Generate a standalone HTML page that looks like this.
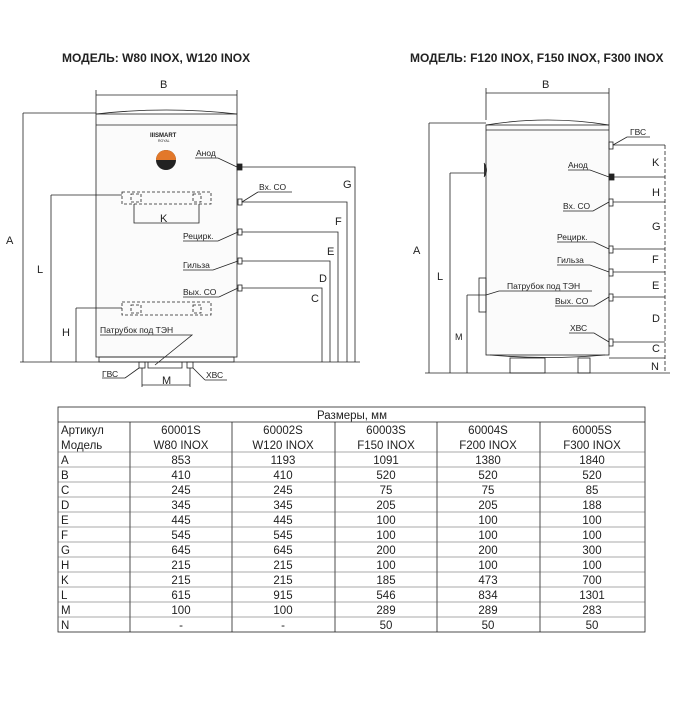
<!DOCTYPE html>
<html><head><meta charset="utf-8"><style>
body{margin:0;background:#fff;}
svg text{font-family:"Liberation Sans",sans-serif;fill:#222;}
</style></head><body>
<svg width="700" height="700" viewBox="0 0 700 700" xmlns="http://www.w3.org/2000/svg">
<g stroke="#222" fill="none" stroke-width="0.8">
<!-- LEFT TANK -->
<rect x="96" y="114" width="141" height="243" fill="#fbfbfb"/>
<path d="M96 125 H237 M96 114 Q166 106 237 114"/>
<path d="M99 357 H234 V362 H99 Z"/>
<line x1="96" y1="95" x2="237" y2="95"/>
<line x1="96" y1="90" x2="96" y2="114"/><line x1="237" y1="90" x2="237" y2="114"/>
<!-- A L H -->
<path d="M23 113 H96 M23 113 V362 M20 362 H360"/>
<path d="M51 195 V362 M51 195 H122"/>
<path d="M76 308 V362 M76 308 H122"/>
<g stroke-dasharray="3,2">
<rect x="122" y="192" width="89" height="12"/><rect x="131" y="194" width="10" height="8"/><rect x="193" y="194" width="8" height="8"/>
<rect x="122" y="302" width="89" height="13"/><rect x="131" y="305" width="10" height="8"/><rect x="193" y="305" width="8" height="8"/>
</g>
<path d="M134 204 V223 H199 V204"/>
<!-- ports -->
<rect x="237" y="164" width="5" height="6" fill="#222"/>
<rect x="238" y="199" width="4" height="6"/><rect x="238" y="229" width="4" height="6"/>
<rect x="238" y="258" width="4" height="6"/><rect x="238" y="285" width="4" height="6"/>
<path d="M242 167 H355 V362 M242 202 H347 V362 M242 232 H338 V362 M242 261 H330 V362 M242 288 H322 V362"/>
<!-- leaders -->
<path d="M195 158 H218 L237 167 M258 192 H292 M258 192 L242 202 M183 241 H218 L238 232 M183 270 H213 L238 261 M183 297 H219 L238 288"/>
<path d="M100 335 H192 L155 365"/>
<!-- bottom -->
<rect x="139" y="362" width="6" height="6"/><rect x="187" y="362" width="6" height="6"/>
<path d="M148 362 V368 H182 V362"/>
<path d="M142 368 V387 M190 368 V387 M142 385 H190"/>
<path d="M125 378 L139 368 M205 380 L193 368 M102 378 H125 M205 380 H227"/>
<!-- RIGHT TANK -->
<rect x="486" y="125" width="123" height="230" fill="#fbfbfb"/>
<path d="M486 130 H609 M486 125 Q548 115 609 125"/>
<path d="M490 355 Q548 360 605 355"/>
<rect x="510" y="358" width="35" height="15"/><rect x="578" y="358" width="12" height="15"/>
<path d="M486 93 H609 M486 88 V120 M609 88 V125"/>
<path d="M429 123 H486 M429 123 V373 M425 373 H670"/>
<path d="M450 173 V373 M450 173 H484"/>
<path d="M467 295 V373 M467 295 H486"/>
<path d="M484 163 Q489 170 484 177" fill="#333"/>
<rect x="479" y="278" width="7" height="34"/>
<rect x="609" y="142" width="4" height="7"/><rect x="609" y="174" width="5" height="6" fill="#222"/>
<rect x="609" y="199" width="4" height="7"/><rect x="609" y="246" width="4" height="7"/>
<rect x="609" y="269" width="4" height="7"/><rect x="609" y="294" width="4" height="7"/>
<rect x="609" y="339" width="4" height="7"/>
<path d="M613 145 H665 M614 177 H665 M613 202 H665 M613 249 H665 M613 272 H665 M613 297 H665 M613 342 H665 M609 358 H665"/>
<path d="M665 145 V373" stroke-dasharray="4,2"/>
<path d="M613 145 L627 137 H650 M568 170 H590 L609 177 M563 211 H593 L609 202 M557 242 H594 L609 249 M557 265 H590 L609 272 M555 306 H594 L609 297 M569 333 H594 L609 342 M486 295 L499 291 H592"/>
</g>
<circle cx="166" cy="160" r="10" fill="#222"/>
<path d="M156 160 A10 10 0 0 1 176 160 Z" fill="#e2782a"/>
<g font-weight="bold" font-size="12">
<text x="62" y="62">МОДЕЛЬ: W80 INOX, W120 INOX</text>
<text x="410" y="62">МОДЕЛЬ: F120 INOX, F150 INOX, F300 INOX</text>
</g>
<text x="150" y="137" font-size="6" font-weight="bold">IIISMART</text>
<text x="158" y="142" font-size="3.5">ROYAL</text>
<g font-size="11">
<text x="160" y="88">B</text><text x="542" y="88">B</text>
<text x="6" y="244">A</text><text x="37" y="273">L</text><text x="62" y="336">H</text>
<text x="160" y="222">K</text><text x="162" y="384">M</text>
<text x="343" y="188">G</text><text x="335" y="225">F</text><text x="327" y="255">E</text>
<text x="319" y="282">D</text><text x="311" y="302">C</text>
<text x="413" y="254">A</text><text x="437" y="280">L</text>
<text x="652" y="166">K</text><text x="652" y="196">H</text><text x="652" y="230">G</text>
<text x="652" y="263">F</text><text x="652" y="289">E</text><text x="652" y="322">D</text>
<text x="652" y="352">C</text><text x="651" y="370">N</text>
</g>
<text x="455" y="340" font-size="9">M</text>
<g font-size="8.5">
<text x="196" y="156">Анод</text><text x="259" y="190">Вх. СО</text>
<text x="183" y="239">Рецирк.</text><text x="183" y="268">Гильза</text>
<text x="183" y="295">Вых. СО</text><text x="100" y="333">Патрубок под ТЭН</text>
<text x="102" y="377">ГВС</text><text x="206" y="378">ХВС</text>
<text x="630" y="135">ГВС</text><text x="568" y="168">Анод</text>
<text x="563" y="209">Вх. СО</text><text x="557" y="240">Рецирк.</text>
<text x="557" y="263">Гильза</text><text x="555" y="304">Вых. СО</text>
<text x="570" y="331">ХВС</text><text x="507" y="289">Патрубок под ТЭН</text>
</g>
<!-- TABLE -->
<g stroke="#222" stroke-width="0.8" fill="none">
<rect x="58" y="407" width="587" height="225"/>
<line x1="58" y1="422" x2="645" y2="422"/>
<path d="M130 422 V632 M232 422 V632 M335 422 V632 M437 422 V632 M540 422 V632"/>
<path d="M58 452 H645 M58 467 H645 M58 482 H645 M58 497 H645 M58 512 H645 M58 527 H645 M58 542 H645 M58 557 H645 M58 572 H645 M58 587 H645 M58 602 H645 M58 617 H645" stroke="#555" stroke-width="0.5"/>
</g>
<g font-size="11.5">
<text x="352" y="419" text-anchor="middle">Размеры, мм</text>
</g>
<g font-size="11.5" id="t"></g>
<g font-size="11.5">
<text x="61" y="434">Артикул</text><text x="61" y="449">Модель</text>
<text x="61" y="464">A</text><text x="61" y="479">B</text><text x="61" y="494">C</text><text x="61" y="509">D</text>
<text x="61" y="524">E</text><text x="61" y="539">F</text><text x="61" y="554">G</text><text x="61" y="569">H</text>
<text x="61" y="584">K</text><text x="61" y="599">L</text><text x="61" y="614">M</text><text x="61" y="629">N</text>
</g>
<g font-size="11.5" text-anchor="middle">
<g transform="translate(181,0)"><text y="434">60001S</text><text y="449">W80 INOX</text><text y="464">853</text><text y="479">410</text><text y="494">245</text><text y="509">345</text><text y="524">445</text><text y="539">545</text><text y="554">645</text><text y="569">215</text><text y="584">215</text><text y="599">615</text><text y="614">100</text><text y="629">-</text></g>
<g transform="translate(283,0)"><text y="434">60002S</text><text y="449">W120 INOX</text><text y="464">1193</text><text y="479">410</text><text y="494">245</text><text y="509">345</text><text y="524">445</text><text y="539">545</text><text y="554">645</text><text y="569">215</text><text y="584">215</text><text y="599">915</text><text y="614">100</text><text y="629">-</text></g>
<g transform="translate(386,0)"><text y="434">60003S</text><text y="449">F150 INOX</text><text y="464">1091</text><text y="479">520</text><text y="494">75</text><text y="509">205</text><text y="524">100</text><text y="539">100</text><text y="554">200</text><text y="569">100</text><text y="584">185</text><text y="599">546</text><text y="614">289</text><text y="629">50</text></g>
<g transform="translate(488,0)"><text y="434">60004S</text><text y="449">F200 INOX</text><text y="464">1380</text><text y="479">520</text><text y="494">75</text><text y="509">205</text><text y="524">100</text><text y="539">100</text><text y="554">200</text><text y="569">100</text><text y="584">473</text><text y="599">834</text><text y="614">289</text><text y="629">50</text></g>
<g transform="translate(592,0)"><text y="434">60005S</text><text y="449">F300 INOX</text><text y="464">1840</text><text y="479">520</text><text y="494">85</text><text y="509">188</text><text y="524">100</text><text y="539">100</text><text y="554">300</text><text y="569">100</text><text y="584">700</text><text y="599">1301</text><text y="614">283</text><text y="629">50</text></g>
</g>
</svg>
</body></html>
